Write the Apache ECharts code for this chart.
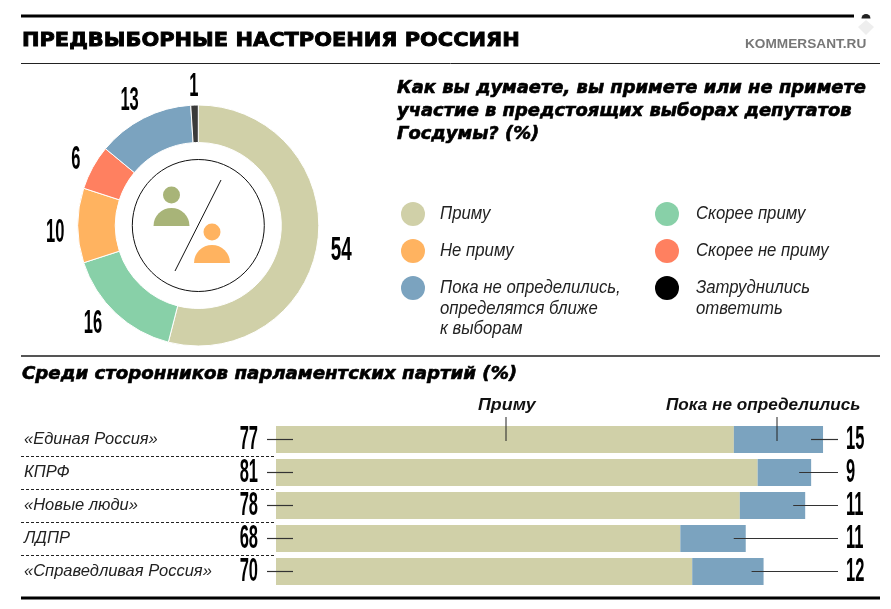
<!DOCTYPE html>
<html><head><meta charset="utf-8">
<style>html,body{margin:0;padding:0;background:#fff}#c{width:891px;height:609px}</style>
<script src="https://cdn.jsdelivr.net/npm/echarts@6/dist/echarts.min.js"></script>
</head><body><div id="c"></div>
<script>
const donutNames = ['Приму','Скорее приму','Не приму','Скорее не приму','Пока не определились','Затруднились ответить'];
const donutValues = [54,16,10,6,13,1];
const parties = ['«Единая Россия»','КПРФ','«Новые люди»','ЛДПР','«Справедливая Россия»'];
const willVote = [77,81,78,68,70];
const undecided = [15,9,11,11,12];

const C = {will:'#d0d0a8',likely:'#88d0a8',no:'#ffb360',likelyNo:'#ff8060',und:'#7ba3bf',hard:'#3a3a3a'};
const donutColors = [C.will,C.likely,C.no,C.likelyNo,C.und,C.hard];
const numFont = 'bold 33px "Liberation Sans"';
const HEAD = '"DejaVu Sans"';
const LIGHT = '"Liberation Sans"';

function txt(text,x,y,font,fill,sx,align,extra){
  return {type:'text',x,y,scaleX:sx||1,silent:true,
    style:Object.assign({text,x:0,y:0,font,fill:fill||'#000',textAlign:align||'left',textVerticalAlign:'middle'},extra||{})};
}
function rule(x1,x2,y,w,color,dash){
  return {type:'line',silent:true,shape:{x1,y1:y,x2,y2:y},style:{stroke:color||'#000',lineWidth:w,lineDash:dash||null}};
}
const heavy = {stroke:'#000',lineWidth:.6};
const g = [];
g.push(rule(21,880,16,3,'#000'));
g.push(rule(21,880,63.5,1,'#222'));
g.push(rule(21,880,356,2,'#555'));
g.push(rule(21,880,598,3,'#000'));
[456.5,489.5,522.5,555.5].forEach(y=>g.push(rule(21,276,y,1,'#222',[3,2])));
// corner expand mark of the source page
g.push({type:'rect',silent:true,shape:{x:854,y:14,width:26,height:26},style:{fill:'#fff'}});
g.push({type:'sector',silent:true,shape:{cx:866,cy:18.5,r:4.5,r0:0,startAngle:Math.PI,endAngle:2*Math.PI},style:{fill:'#222'}});
g.push({type:'polygon',silent:true,shape:{points:[[866,20],[874,27],[866,35],[858,27]]},style:{fill:'#eeeeee'}});
// header
g.push(txt('ПРЕДВЫБОРНЫЕ НАСТРОЕНИЯ РОССИЯН',22,41,'bold 20px '+HEAD,'#000',1.047,'left',{stroke:'#000',lineWidth:.9}));
g.push(txt('KOMMERSANT.RU',745,44,'bold 13px "Liberation Sans"','#777',1.05));
['Как вы думаете, вы примете или не примете','участие в предстоящих выборах депутатов','Госдумы? (%)'].forEach((t,i)=>
  g.push(txt(t,397,89+i*22.7,'italic bold 17px '+HEAD,'#000',1.054,'left',heavy)));
g.push(txt('Среди сторонников парламентских партий (%)',22,375,'italic bold 17px '+HEAD,'#000',1.07,'left',heavy));
// legend
const legendRows = [
 [413,214,C.will,['Приму'],440],
 [413,251,C.no,['Не приму'],440],
 [413,288,C.und,['Пока не определились,','определятся ближе','к выборам'],440],
 [667,214,C.likely,['Скорее приму'],696],
 [667,251,C.likelyNo,['Скорее не приму'],696],
 [667,288,'#000',['Затруднились','ответить'],696]
];
legendRows.forEach(r=>{
  g.push({type:'circle',silent:true,shape:{cx:r[0],cy:r[1],r:12},style:{fill:r[2]}});
  r[3].forEach((t,i)=>g.push(txt(t,r[4],r[1]+i*20.7,'italic 18px '+LIGHT,'#222',.93)));
});
// centre of donut
g.push({type:'circle',silent:true,shape:{cx:198.3,cy:225.5,r:66},style:{fill:'none',stroke:'#111',lineWidth:1}});
g.push({type:'line',silent:true,shape:{x1:221,y1:180,x2:175,y2:271},style:{stroke:'#111',lineWidth:1}});
function person(hx,hy,color){
  g.push({type:'circle',silent:true,shape:{cx:hx,cy:hy,r:8.5},style:{fill:color}});
  g.push({type:'sector',silent:true,shape:{cx:hx,cy:hy+31,r:18,r0:0,startAngle:Math.PI,endAngle:2*Math.PI},style:{fill:color}});
}
person(171.5,195,'#a8b478');
person(212,232,'#ffb360');
// donut value labels placed on the mid-angle of each slice
const labelDist = [146,148,146,142,147,140], labelShift = [[-2,7],[-4,-9],[3,7],[2,3],[-2,6],[0,1]];
let acc = 0; const total = donutValues.reduce((a,b)=>a+b,0);
donutValues.forEach((v,i)=>{
  const a = (acc+v/2)/total*2*Math.PI; acc += v;
  const x = 198.3+labelDist[i]*Math.sin(a)+labelShift[i][0], y = 225.5-labelDist[i]*Math.cos(a)+labelShift[i][1];
  g.push(txt(String(v),x,y,numFont,'#000',i===0?.57:.5,'center'));
});
// annotations over bars
g.push(txt('Приму',478,405,'italic bold 17px '+LIGHT,'#111',1.05));
g.push(txt('Пока не определились',666,405,'italic bold 17px '+LIGHT,'#111',1.01));
g.push({type:'line',silent:true,z:50,shape:{x1:506,y1:417,x2:506,y2:441},style:{stroke:'#222',lineWidth:1}});
g.push({type:'line',silent:true,z:50,shape:{x1:777,y1:417,x2:777,y2:441},style:{stroke:'#222',lineWidth:1}});

const leaders = parties.map((p,i)=>[willVote[i],i,undecided[i]]);
const chart = echarts.init(document.getElementById('c'),null,{renderer:'canvas'});
chart.setOption({
  animation:false,
  backgroundColor:'#fff',
  graphic:{elements:g.map(e=>Object.assign({z:50},e))},
  grid:{left:276,top:423,width:594.6,height:165,containLabel:false},
  xAxis:{type:'value',min:0,max:100,show:false},
  yAxis:{type:'category',data:parties,inverse:true,axisLine:{show:false},axisTick:{show:false},
    axisLabel:{align:'left',margin:252,fontFamily:LIGHT,fontStyle:'italic',fontSize:16.5,color:'#222',padding:[0,0,4,0]}},
  series:[
    {type:'pie',center:[198.3,225.5],radius:[83,120.5],startAngle:90,clockwise:true,silent:true,
     label:{show:false},labelLine:{show:false},
     itemStyle:{borderColor:'#fff',borderWidth:1},
     data:donutNames.map((n,i)=>({name:n,value:donutValues[i],itemStyle:{color:donutColors[i]}}))},
    {type:'bar',name:'Приму',stack:'a',barWidth:27,silent:true,data:willVote,itemStyle:{color:C.will}},
    {type:'bar',name:'Пока не определились',stack:'a',barWidth:27,silent:true,data:undecided,itemStyle:{color:C.und}},
    {type:'custom',silent:true,z:10,clip:false,encode:{x:0,y:1},data:leaders,
     renderItem(params,api){
       const will=api.value(0), cat=api.value(1), und=api.value(2);
       const p=api.coord([will+und,cat]);
       const y=p[1], end=p[0];
       const line=(a,b)=>({type:'line',shape:{x1:a,y1:y,x2:b,y2:y},style:{stroke:'#333',lineWidth:1.2}});
       const num=(t,x,al)=>({type:'text',x,y,scaleX:.5,style:{text:String(t),x:0,y:0,font:numFont,fill:'#000',textAlign:al,textVerticalAlign:'middle'}});
       return {type:'group',children:[line(267,293),line(end-12,838),num(will,258,'right'),num(und,846,'left')]};
     }}
  ]
});
</script></body></html>
